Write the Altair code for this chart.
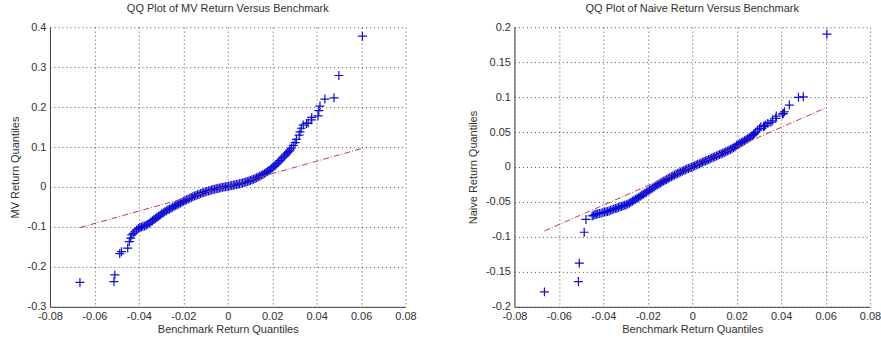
import altair as alt
import pandas as pd

# Benchmark return quantiles (shared x for both QQ plots), sorted ascending
bench_q = [
    -0.0665, -0.0512, -0.0508, -0.0486, -0.0478, -0.0450, -0.0443, -0.0437, -0.0432, -0.0425,
    -0.0418, -0.0410, -0.0402, -0.0395,
    -0.0388, -0.0381, -0.0374, -0.0367, -0.0360, -0.0353, -0.0346, -0.0339, -0.0332, -0.0325,
    -0.0318, -0.0311, -0.0304, -0.0297, -0.0290, -0.0283, -0.0276, -0.0269, -0.0262, -0.0255,
    -0.0248, -0.0241, -0.0234, -0.0227, -0.0220, -0.0213, -0.0206, -0.0199, -0.0192, -0.0185,
    -0.0178, -0.0171, -0.0164, -0.0157, -0.0150, -0.0143, -0.0136, -0.0129, -0.0122, -0.0115,
    -0.0108, -0.0101, -0.0094, -0.0087, -0.0080, -0.0073, -0.0066, -0.0059, -0.0052, -0.0045,
    -0.0038, -0.0031, -0.0024, -0.0017, -0.0010, -0.0003, 0.0004, 0.0011, 0.0018, 0.0025,
    0.0032, 0.0039, 0.0046, 0.0053, 0.0060, 0.0067, 0.0074, 0.0081, 0.0088, 0.0095,
    0.0102, 0.0109, 0.0116, 0.0123, 0.0130, 0.0137, 0.0144, 0.0151, 0.0158, 0.0165,
    0.0172, 0.0179, 0.0186, 0.0193, 0.0200, 0.0207, 0.0214, 0.0221, 0.0228, 0.0235,
    0.0242, 0.0249, 0.0256, 0.0263, 0.0270, 0.0276,
    0.0280, 0.0286, 0.0295, 0.0303, 0.0309, 0.0321, 0.0325, 0.0331, 0.0340, 0.0354,
    0.0362, 0.0376, 0.0378, 0.0406, 0.0410, 0.0415, 0.0437, 0.0478, 0.0500, 0.0606,
]

# MV return quantiles
mv_q = [
    -0.2390, -0.2367, -0.2200, -0.1667, -0.1620, -0.1530, -0.1367, -0.1280, -0.1200, -0.1160,
    -0.1120, -0.1075, -0.1040, -0.1015,
    -0.1000, -0.0985, -0.0975, -0.0955, -0.0935, -0.0905, -0.0875, -0.0845, -0.0815, -0.0790,
    -0.0760, -0.0730, -0.0700, -0.0670, -0.0645, -0.0620, -0.0595, -0.0570, -0.0550, -0.0530,
    -0.0505, -0.0485, -0.0465, -0.0445, -0.0425, -0.0400, -0.0380, -0.0360, -0.0340, -0.0320,
    -0.0300, -0.0280, -0.0262, -0.0245, -0.0228, -0.0212, -0.0196, -0.0180, -0.0165, -0.0150,
    -0.0136, -0.0122, -0.0110, -0.0098, -0.0087, -0.0076, -0.0066, -0.0056, -0.0046, -0.0037,
    -0.0028, -0.0019, -0.0010, -0.0002, 0.0006, 0.0013, 0.0021, 0.0029, 0.0037, 0.0045,
    0.0053, 0.0062, 0.0071, 0.0081, 0.0091, 0.0101, 0.0112, 0.0124, 0.0137, 0.0150,
    0.0164, 0.0180, 0.0196, 0.0213, 0.0231, 0.0250, 0.0270, 0.0291, 0.0313, 0.0336,
    0.0360, 0.0385, 0.0411, 0.0445, 0.0480, 0.0510, 0.0545, 0.0580, 0.0620, 0.0660,
    0.0700, 0.0740, 0.0780, 0.0820, 0.0860, 0.0890,
    0.0920, 0.0970, 0.1040, 0.1110, 0.1190, 0.1300, 0.1380, 0.1470, 0.1550, 0.1590,
    0.1600, 0.1680, 0.1740, 0.1780, 0.1910, 0.2025, 0.2200, 0.2230, 0.2790, 0.3775,
]

# Naive return quantiles
naive_q = [
    -0.1786, -0.1638, -0.1376, -0.0933, -0.0750, -0.0700, -0.0690, -0.0680, -0.0675, -0.0670,
    -0.0665, -0.0660, -0.0652, -0.0645,
    -0.0640, -0.0635, -0.0630, -0.0620, -0.0610, -0.0600, -0.0595, -0.0590, -0.0580, -0.0570,
    -0.0565, -0.0555, -0.0548, -0.0540, -0.0530, -0.0520, -0.0505, -0.0490, -0.0475, -0.0460,
    -0.0450, -0.0435, -0.0420, -0.0405, -0.0390, -0.0375, -0.0360, -0.0345, -0.0330, -0.0315,
    -0.0300, -0.0285, -0.0270, -0.0255, -0.0242, -0.0228, -0.0215, -0.0202, -0.0190, -0.0178,
    -0.0165, -0.0152, -0.0140, -0.0128, -0.0116, -0.0104, -0.0093, -0.0082, -0.0071, -0.0060,
    -0.0050, -0.0040, -0.0030, -0.0020, -0.0011, -0.0002, 0.0008, 0.0018, 0.0028, 0.0038,
    0.0048, 0.0058, 0.0068, 0.0078, 0.0088, 0.0098, 0.0108, 0.0118, 0.0128, 0.0138,
    0.0148, 0.0158, 0.0168, 0.0178, 0.0188, 0.0198, 0.0208, 0.0219, 0.0230, 0.0241,
    0.0252, 0.0264, 0.0277, 0.0290, 0.0310, 0.0323, 0.0336, 0.0349, 0.0362, 0.0375,
    0.0389, 0.0403, 0.0418, 0.0433, 0.0448, 0.0462,
    0.0480, 0.0500, 0.0529, 0.0550, 0.0576, 0.0580, 0.0586, 0.0600, 0.0624, 0.0640,
    0.0660, 0.0696, 0.0729, 0.0757, 0.0767, 0.0790, 0.0886, 0.0996, 0.1004, 0.1900,
]

# Reference (quartile) lines: endpoints
line_x = [-0.0665, 0.0606]
mv_line_y = [-0.1017, 0.0967]
naive_line_y = [-0.0914, 0.0853]

x_ticks = [-0.08, -0.06, -0.04, -0.02, 0, 0.02, 0.04, 0.06, 0.08]
mv_ticks = [-0.3, -0.2, -0.1, 0, 0.1, 0.2, 0.3, 0.4]
naive_ticks = [-0.2, -0.15, -0.1, -0.05, 0, 0.05, 0.1, 0.15, 0.2]

FONT = "Liberation Sans"
TXT = "#303030"
AX = "#404040"
PLUS = "M-1,0L1,0M0,-1L0,1"


def panel(yvals, line_y, title, ytitle, ydom, yticks, ytitle_x):
    pts = pd.DataFrame({"x": bench_q, "y": yvals})
    ln = pd.DataFrame({"x": line_x, "y": line_y})
    xenc = alt.X(
        "x:Q",
        scale=alt.Scale(domain=[-0.08, 0.08], nice=False, zero=False),
        axis=alt.Axis(
            values=x_ticks, labelExpr="'' + datum.value",
            title="Benchmark Return Quantiles", titlePadding=2,
            labelPadding=4, labelFlush=False, labelOverlap=False,
        ),
    )
    yenc = alt.Y(
        "y:Q",
        scale=alt.Scale(domain=ydom, nice=False, zero=False),
        axis=alt.Axis(
            values=yticks, labelExpr="'' + datum.value",
            title=ytitle, titleX=ytitle_x, titleBaseline="middle", titleAngle=270,
            labelPadding=4, labelFlush=False, labelOverlap=False,
        ),
    )
    p = alt.Chart(pts).mark_point(
        shape=PLUS, filled=False, color="#0c0cd8", strokeWidth=1.2, size=81, opacity=1,
    ).encode(x=xenc, y=yenc)
    l = alt.Chart(ln).mark_line(
        color="#b8403c", strokeWidth=1, strokeDash=[6, 2, 1, 2],
    ).encode(x=xenc, y=yenc)
    return (p + l).properties(
        width=356, height=280,
        title=alt.TitleParams(title, fontSize=11, fontWeight="normal", font=FONT,
                              color=TXT, offset=7),
    )


left = panel(mv_q, mv_line_y, "QQ Plot of MV Return Versus Benchmark",
             "MV Return Quantiles", [-0.3, 0.4], mv_ticks, -34)
right = panel(naive_q, naive_line_y, "QQ Plot of Naive Return Versus Benchmark",
              "Naive Return Quantiles", [-0.2, 0.2], naive_ticks, -41)

chart = alt.hconcat(left, right, spacing=109, bounds="flush").properties(
    padding={"left": 10, "top": 3, "right": 0, "bottom": 0},
    background="white",
).configure_view(stroke=None).configure_axis(
    grid=True, gridDash=[1, 3], gridColor="#222", gridWidth=1, gridOpacity=0.8,
    domainColor=AX, domainWidth=1, ticks=False, tickSize=0, labelOverlap=False,
    labelFont=FONT, labelFontSize=11, labelColor=TXT,
    titleFont=FONT, titleFontSize=11, titleFontWeight="normal", titleColor=TXT,
)

chart.save("out.html", embed_options={"renderer": "svg", "actions": False})
